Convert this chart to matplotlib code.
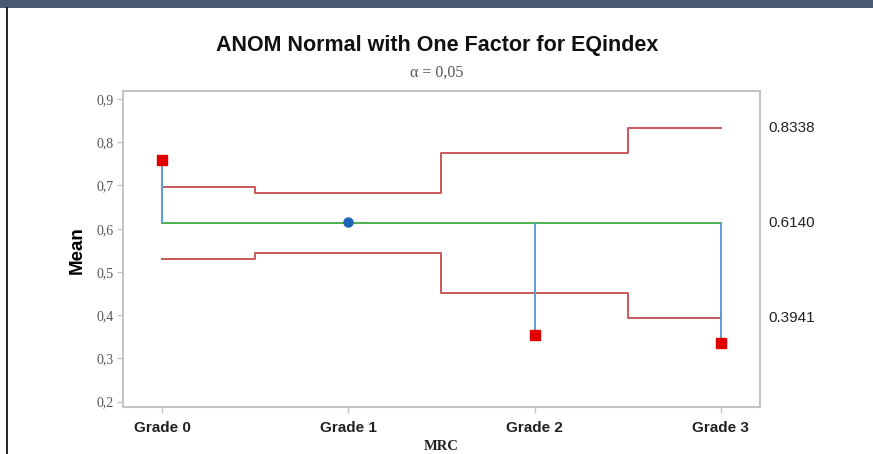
import matplotlib
matplotlib.use("Agg")
import matplotlib.pyplot as plt
from matplotlib.patches import Rectangle
from matplotlib.lines import Line2D
import matplotlib.transforms as mtransforms

# data
grades = ["Grade 0", "Grade 1", "Grade 2", "Grade 3"]
means = [0.760, 0.616, 0.354, 0.336]
center = 0.6140
udl = [0.697, 0.683, 0.776, 0.8338]
ldl = [0.531, 0.545, 0.452, 0.3941]
yticks = [0.2, 0.3, 0.4, 0.5, 0.6, 0.7, 0.8, 0.9]
right_labels = ["0.8338", "0.6140", "0.3941"]
right_values = [0.8338, 0.6140, 0.3941]

RED = "#c9595a"
BLUE = "#5b9bd5"
GREEN = "#4caf50"
SPINE = "#c4c4c4"

fig = plt.figure(figsize=(8.73, 4.54), dpi=100)
fig.patch.set_facecolor("white")
ax = fig.add_axes([123 / 873, 1 - 407 / 454, (760 - 123) / 873, (407 - 91) / 454])

x = list(range(len(grades)))

# decision limits as steps, centre line
ax.step(x, udl, where="mid", color=RED, lw=1.4, zorder=2)
ax.step(x, ldl, where="mid", color=RED, lw=1.4, zorder=2)
ax.plot([x[0], x[-1]], [center, center], color=GREEN, lw=1.4, zorder=2)

# drop lines from centre to each mean
ax.vlines(x, center, means, color=BLUE, lw=1.4, zorder=3)

# points outside the limits red squares, inside blue dot
for xi, m, lo, hi in zip(x, means, ldl, udl):
    if m > hi or m < lo:
        ax.plot(xi, m, marker="s", ms=6.5, color="#e00000", mec="#e00000", zorder=4)
    else:
        ax.plot(xi, m, marker="o", ms=6.5, color="#1f63b8", mec="#1f63b8", zorder=4)

ax.set_xlim(-0.21, 3.21)
ax.set_ylim(0.1877, 0.9185)
ax.set_xticks(x)
ax.set_xticklabels(grades, fontsize=11, fontweight="bold", family="Liberation Sans", color="#222222")
ax.set_yticks(yticks)
ax.set_yticklabels([f"{v:.1f}".replace(".", ",") for v in yticks],
                   fontsize=10, family="Liberation Serif", color="#555555")
ax.tick_params(axis="both", colors=SPINE, length=4, width=1)
ax.tick_params(axis="x", labelcolor="#222222", pad=6)
ax.tick_params(axis="y", labelcolor="#555555", pad=3)
for sp in ax.spines.values():
    sp.set_color(SPINE)
    sp.set_linewidth(1.5)

# limit values on the right
trans = mtransforms.blended_transform_factory(ax.transAxes, ax.transData)
for lab, v in zip(right_labels, right_values):
    ax.text(1 + 8 / 637, v, lab, transform=trans, ha="left", va="center",
            fontsize=11, family="Liberation Sans", color="#222222")

fig.text(437 / 873, 1 - 45 / 454, "ANOM Normal with One Factor for EQindex",
         ha="center", va="center", fontsize=15.5, fontweight="bold", family="Liberation Sans",
         color="#111111")
fig.text(437 / 873, 1 - 73 / 454, "α = 0,05", ha="center", va="center",
         fontsize=11.5, family="Liberation Serif", color="#555555")
fig.text(77 / 873, 1 - 250 / 454, "Mean", ha="center", va="center", rotation=90,
         fontsize=13.5, fontweight="bold", family="Liberation Sans")
fig.text(441 / 873, 1 - 447 / 454, "MRC", ha="center", va="center",
         fontsize=10.5, fontweight="bold", family="Liberation Serif", color="#222222")

# window frame: dark bar on top, thin black line on the left
fig.add_artist(Rectangle((0, 1 - 8 / 454), 1, 8 / 454, transform=fig.transFigure,
                         facecolor="#4a5a70", edgecolor="none"))
fig.add_artist(Line2D([6.5 / 873, 6.5 / 873], [0, 1 - 8 / 454], transform=fig.transFigure,
                      color="black", lw=1.2))

fig.savefig("out.png", dpi=100)
